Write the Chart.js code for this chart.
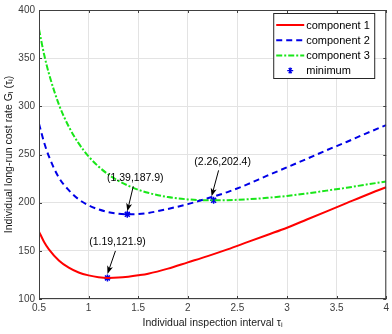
<!DOCTYPE html>
<html>
<head>
<meta charset="utf-8">
<script src="https://cdn.jsdelivr.net/npm/chart.js@4.4.0/dist/chart.umd.min.js"></script>
<style>
    html, body { margin: 0; padding: 0; background: #fff; }
    #wrap { width: 392px; height: 334px; }
</style>
</head>
<body>
<div id="wrap"><canvas id="canvas_cost_rate"></canvas></div>
<script>
// inspection interval samples (x) and cost rates
const tau = [0.5, 0.55, 0.6, 0.7, 0.8, 0.9, 1.0, 1.1, 1.2, 1.3, 1.4, 1.5, 1.6, 1.8, 2.0, 2.2, 2.4, 2.6, 2.8, 3.0, 3.2, 3.4, 3.6, 3.8, 4.0];
const cost_comp1 = [170, 159.5, 151.5, 140, 132.5, 127.5, 124.5, 122.6, 121.9, 122.2, 123.2, 124.6, 126.3, 131.5, 138, 144.5, 151.5, 159, 166.5, 174, 182.5, 191, 199.5, 208, 216];
const cost_comp2 = [282, 263, 248, 226, 213, 203.5, 197.2, 193, 190.2, 188.6, 187.9, 188.2, 189.3, 193.5, 198.5, 204.5, 211, 219, 228, 236.7, 245.5, 254.5, 263, 272, 280.5];
const cost_comp3 = [380, 354.5, 334, 302, 279, 261.5, 248, 237.5, 229.2, 222.7, 217.6, 213.4, 210.2, 205.8, 203.4, 202.4, 202.6, 203.5, 205, 207, 209.5, 212.5, 215.5, 218.8, 222];
const min_tau = [1.19, 1.39, 2.26];
const min_cost = [121.9, 187.9, 202.4];

const x_ticks = [0.5, 1, 1.5, 2, 2.5, 3, 3.5, 4];
const y_ticks = [100, 150, 200, 250, 300, 350, 400];

const police = '"Liberation Sans", Arial, Helvetica, sans-serif';

function to_points(xs, ys) {
    let points = [];
    for (let count = 0; count < xs.length; count++) {
        points.push({x: xs[count], y: ys[count]});
    }
    return points;
}

// annotation offsets in pixels from each minimum: text centre, arrow tail, arrow tip
const annotations = [
    {text: [10, -36], tail: [8, -27], tip: [0, -4]},
    {text: [8, -36], tail: [6, -28], tip: [0, -3]},
    {text: [9, -38], tail: [5, -30], tip: [-2, -4]}
];

const matlab_plugin = {
    id: 'matlab_plugin',
    afterDatasetsDraw(chart) {
        const ctx = chart.ctx;
        const area = chart.chartArea;
        const sx = chart.scales.x, sy = chart.scales.y;
        ctx.save();

        // box and inward ticks
        ctx.strokeStyle = '#404040';
        ctx.lineWidth = 1;
        ctx.strokeRect(area.left + 0.5, area.top + 0.5, area.right - area.left - 1, area.bottom - area.top - 1);
        ctx.beginPath();
        x_ticks.forEach(function (v) {
            const px = Math.round(sx.getPixelForValue(v)) + 0.5;
            ctx.moveTo(px, area.bottom); ctx.lineTo(px, area.bottom - 3);
            ctx.moveTo(px, area.top); ctx.lineTo(px, area.top + 3);
        });
        y_ticks.forEach(function (v) {
            const py = Math.round(sy.getPixelForValue(v)) + 0.5;
            ctx.moveTo(area.left, py); ctx.lineTo(area.left + 3, py);
            ctx.moveTo(area.right, py); ctx.lineTo(area.right - 3, py);
        });
        ctx.stroke();

        // annotations with arrows
        ctx.font = '10.5px ' + police;
        ctx.fillStyle = '#000';
        ctx.strokeStyle = '#000';
        ctx.textAlign = 'center';
        ctx.textBaseline = 'middle';
        for (let count = 0; count < min_tau.length; count++) {
            const px = sx.getPixelForValue(min_tau[count]);
            const py = sy.getPixelForValue(min_cost[count]);
            const a = annotations[count];
            ctx.fillText('(' + min_tau[count] + ',' + min_cost[count] + ')', px + a.text[0], py + a.text[1]);
            const x0 = px + a.tail[0], y0 = py + a.tail[1];
            const x1 = px + a.tip[0], y1 = py + a.tip[1];
            const ang = Math.atan2(y1 - y0, x1 - x0);
            ctx.lineWidth = 1;
            ctx.beginPath();
            ctx.moveTo(x0, y0);
            ctx.lineTo(x1 - 5 * Math.cos(ang), y1 - 5 * Math.sin(ang));
            ctx.stroke();
            ctx.beginPath();
            ctx.moveTo(x1, y1);
            ctx.lineTo(x1 - 8 * Math.cos(ang) + 3 * Math.sin(ang), y1 - 8 * Math.sin(ang) - 3 * Math.cos(ang));
            ctx.lineTo(x1 - 6 * Math.cos(ang), y1 - 6 * Math.sin(ang));
            ctx.lineTo(x1 - 8 * Math.cos(ang) - 3 * Math.sin(ang), y1 - 8 * Math.sin(ang) + 3 * Math.cos(ang));
            ctx.closePath();
            ctx.fill();
        }

        // legend box
        const lx = area.right - 113, ly = area.top + 3, lw = 101, lh = 65;
        ctx.fillStyle = '#fff';
        ctx.fillRect(lx, ly, lw, lh);
        ctx.strokeStyle = '#262626';
        ctx.strokeRect(lx + 0.5, ly + 0.5, lw, lh);
        const items = chart.data.datasets;
        ctx.textAlign = 'left';
        ctx.font = '11px ' + police;
        for (let count = 0; count < items.length; count++) {
            const ds = items[count];
            const ry = ly + 12 + count * 15.2;
            if (ds.showLine === false) {
                ctx.fillStyle = ds.borderColor;
                ctx.strokeStyle = ds.borderColor;
                ctx.lineWidth = 1.2;
                ctx.beginPath();
                for (let k = 0; k < 3; k++) {
                    const ang = Math.PI / 3 * k;
                    ctx.moveTo(lx + 17 - 3 * Math.cos(ang), ry - 3 * Math.sin(ang));
                    ctx.lineTo(lx + 17 + 3 * Math.cos(ang), ry + 3 * Math.sin(ang));
                }
                ctx.moveTo(lx + 17, ry - 3); ctx.lineTo(lx + 17, ry + 3);
                ctx.stroke();
            } else {
                ctx.strokeStyle = ds.borderColor;
                ctx.lineWidth = ds.borderWidth;
                ctx.setLineDash(ds.borderDash || []);
                ctx.beginPath();
                ctx.moveTo(lx + 3, ry);
                ctx.lineTo(lx + 31, ry);
                ctx.stroke();
                ctx.setLineDash([]);
            }
            ctx.fillStyle = '#000';
            ctx.fillText(ds.label, lx + 33, ry + 0.5);
        }
        ctx.restore();
    }
};

let chart_datas = {
    datasets: [
        {
            label: 'component 1',
            data: to_points(tau, cost_comp1),
            borderColor: '#ff0000',
            borderWidth: 2,
            pointRadius: 0,
            cubicInterpolationMode: 'monotone'
        },
        {
            label: 'component 2',
            data: to_points(tau, cost_comp2),
            borderColor: '#0000e6',
            borderWidth: 2,
            borderDash: [6, 4],
            pointRadius: 0,
            cubicInterpolationMode: 'monotone'
        },
        {
            label: 'component 3',
            data: to_points(tau, cost_comp3),
            borderColor: '#19e619',
            borderWidth: 2,
            borderDash: [6, 2, 2, 2],
            pointRadius: 0,
            cubicInterpolationMode: 'monotone'
        },
        {
            label: 'minimum',
            data: to_points(min_tau, min_cost),
            borderColor: '#0000e6',
            backgroundColor: '#0000e6',
            showLine: false,
            pointStyle: 'star',
            pointRadius: 3.5,
            pointBorderWidth: 1.5
        }
    ]
};

let options = {
    responsive: false,
    animation: false,
    layout: {padding: {left: 0, right: 3, top: 5, bottom: 0}},
    plugins: {
        legend: {display: false},
        tooltip: {enabled: false}
    },
    scales: {
        x: {
            type: 'linear',
            min: 0.5,
            max: 4,
            afterBuildTicks: function (scale) {
                scale.ticks = x_ticks.map(function (v) { return {value: v}; });
            },
            afterFit: function (scale) { scale.height = 35; },
            grid: {color: '#e3e3e3', drawTicks: false},
            border: {display: false},
            ticks: {
                color: '#3c3c3c', padding: 3, maxRotation: 0,
                font: {family: police, size: 10},
                callback: function (value) { return String(value); }
            },
            title: {
                display: true,
                text: 'Individual inspection interval τᵢ',
                color: '#1a1a1a',
                padding: {top: 0, bottom: 5},
                font: {family: police, size: 10.5}
            }
        },
        y: {
            min: 100,
            max: 400,
            afterBuildTicks: function (scale) {
                scale.ticks = y_ticks.map(function (v) { return {value: v}; });
            },
            afterFit: function (scale) { scale.width = 39; },
            grid: {color: '#e3e3e3', drawTicks: false},
            border: {display: false},
            ticks: {
                color: '#3c3c3c', padding: 4,
                font: {family: police, size: 10},
                callback: function (value) { return String(value); }
            },
            title: {
                display: true,
                text: 'Individual long-run cost rate Gᵢ (τᵢ)',
                color: '#1a1a1a',
                padding: {top: 3, bottom: 0},
                font: {family: police, size: 10.5}
            }
        }
    }
};

const canvas = document.getElementById('canvas_cost_rate');
canvas.width = 392;
canvas.height = 334;
const graph = new Chart(canvas, {
    type: 'line',
    data: chart_datas,
    options: options,
    plugins: [matlab_plugin]
});
</script>
</body>
</html>
